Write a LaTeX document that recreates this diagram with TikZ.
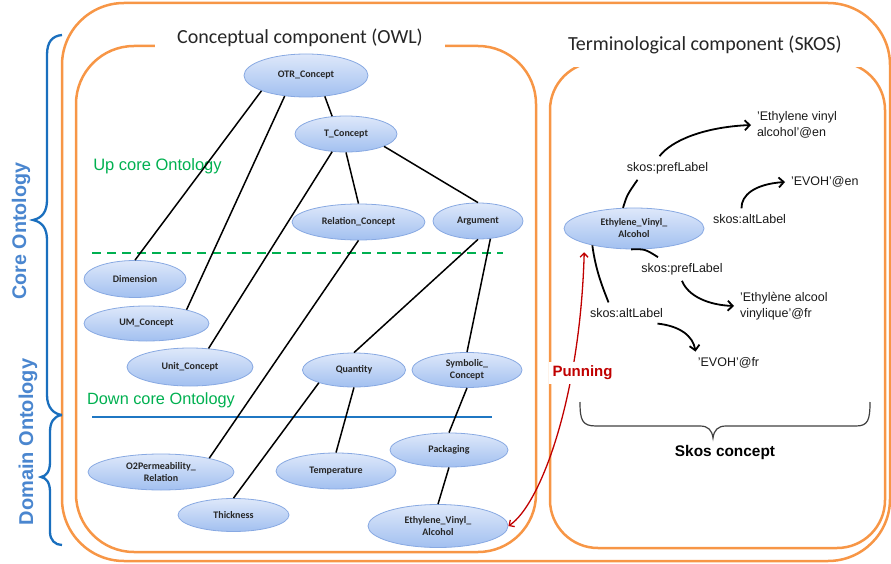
\documentclass[tikz,border=0pt]{standalone}
\usepackage{fontspec}
\setmainfont{Liberation Sans}
\newfontfamily\calibri{Carlito}
\usetikzlibrary{arrows.meta,shapes.geometric}

\definecolor{boxorange}{HTML}{F79646}
\definecolor{braceblue}{HTML}{1A6FBE}
\definecolor{ontoblue}{HTML}{4A86CF}
\definecolor{upgreen}{HTML}{00B050}
\definecolor{punred}{HTML}{C00000}
\definecolor{nodetop}{HTML}{DEE8FA}
\definecolor{nodebot}{HTML}{A2C0F0}
\definecolor{nodeline}{HTML}{88A9E2}
\definecolor{lineblue}{HTML}{1F77C3}

\tikzset{
  concept/.style={ellipse, draw=nodeline, line width=0.8pt, top color=nodetop, bottom color=nodebot,
    inner sep=0pt, align=center, text=black!85, font=\calibri\bfseries\fontsize{10}{12}\selectfont},
  link/.style={line width=1.5pt},
  orangebox/.style={draw=boxorange, line width=2.5pt},
  brace/.style={draw=braceblue, line width=2.3pt},
  lbl/.style={inner sep=1pt, outer sep=5pt, text=black!90, font=\fontsize{12.5}{15.5}\selectfont},
  skosline/.style={line width=1.8pt},
  skosarrow/.style={line width=1.8pt, -{Straight Barb[length=5pt,width=10pt]}},
  title/.style={fill=white, inner ysep=4pt, text=black!85, font=\calibri\fontsize{20}{24}\selectfont}
}

\begin{document}
\begin{tikzpicture}[x=1pt,y=-1pt]

\useasboundingbox (0,0) rectangle (891,564);

% boxes
\draw [orangebox, rounded corners=62pt] (62,3) rectangle (890,561);
\draw [orangebox, rounded corners=58pt] (76,46) rectangle (536,552);
\draw [orangebox, rounded corners=48pt] (550,62) rectangle (885,548);

\node [title, minimum width=290pt] (owltitle) at (300,38) {Conceptual component (OWL)};
\node [title, inner xsep=8pt, inner ysep=13pt, text width=286pt, align=flush left] (skostitle) at (711,45) {Terminological component (SKOS)};

% braces on the left
\draw [brace] (62,35) .. controls (52,36) and (47,42) .. (47,55) -- (47,200)
  .. controls (47,212) and (42,218) .. (33,220) .. controls (42,222) and (47,228) .. (47,240)
  -- (47,395) .. controls (47,408) and (54,414) .. (62,415);
\draw [brace] (62,415) .. controls (54,416) and (50,422) .. (50,432) -- (50,462)
  .. controls (50,472) and (46,476) .. (41,477) .. controls (46,478) and (50,482) .. (50,492)
  -- (50,532) .. controls (50,540) and (55,545) .. (62,545);

\node [rotate=90, text=ontoblue, font=\bfseries\fontsize{19.7}{22}\selectfont] (coreonto) at (21,231) {Core Ontology};
\node [rotate=90, text=ontoblue, font=\bfseries\fontsize{20}{22}\selectfont] (domainonto) at (28,442) {Domain Ontology};

% levels
\node [text=upgreen, font=\fontsize{16.5}{18}\selectfont] (upcore) at (157.5,166) {Up core Ontology};
\node [text=upgreen, font=\fontsize{16.3}{18}\selectfont] (downcore) at (161,400) {Down core Ontology};
\draw [upgreen, line width=1.6pt, dash pattern=on 9pt off 6pt] (92,253) -- (503,253);
\draw [lineblue, line width=1.5pt] (92,417) -- (492,417);

% concepts
\node [concept, minimum width=124pt, minimum height=43pt] (otr) at (306,75.5) {OTR\_Concept};
\node [concept, minimum width=102pt, minimum height=36pt] (tcon) at (346,134) {T\_Concept};
\node [concept, minimum width=133pt, minimum height=36pt] (relcon) at (358.5,222) {Relation\_Concept};
\node [concept, minimum width=90pt, minimum height=36pt] (argument) at (478,221) {Argument};
\node [concept, minimum width=102pt, minimum height=37pt] (dimension) at (135,279) {Dimension};
\node [concept, minimum width=125pt, minimum height=35pt] (umcon) at (146.5,323.5) {UM\_Concept};
\node [concept, minimum width=126pt, minimum height=38pt] (unitcon) at (190,367) {Unit\_Concept};
\node [concept, minimum width=103pt, minimum height=34pt] (quantity) at (354,370) {Quantity};
\node [concept, minimum width=110pt, minimum height=35pt] (symbolic) at (467,370) {Symbolic\_\\Concept};
\node [concept, minimum width=118pt, minimum height=34pt] (packaging) at (449,450) {Packaging};
\node [concept, minimum width=146pt, minimum height=36pt] (otwo) at (161,472) {O2Permeability\_\\Relation};
\node [concept, minimum width=120pt, minimum height=36pt] (temperature) at (336,471) {Temperature};
\node [concept, minimum width=111pt, minimum height=33pt] (thickness) at (233.5,515) {Thickness};
\node [concept, minimum width=140pt, minimum height=43pt] (evadown) at (438,526) {Ethylene\_Vinyl\_\\Alcohol};
\node [concept, minimum width=140pt, minimum height=41pt] (evaup) at (634,228.5) {Ethylene\_Vinyl\_\\Alcohol};

\draw [link] (otr.-48) -- (tcon.128);
\draw [link] (otr.199) -- (dimension.north);
\draw [link] (otr.224) -- (umcon.19);
\draw [link] (tcon.232) -- (unitcon.45);
\draw [link] (tcon.south) -- (relcon.north);
\draw [link] (tcon.-18) -- (argument.north);
\draw [link] (relcon.south) -- (otwo.16);
\draw [link] (argument.south) -- (quantity.north);
\draw [link] (argument.-55) -- (symbolic.north);
\draw [link] (quantity.south) -- (temperature.north);
\draw [link] (quantity.200) -- (thickness.north);
\draw [link] (symbolic.south) -- (packaging.north);
\draw [link] (packaging.south) -- (evadown.north);

% skos labels
\node [lbl] (pref1) at (667.5,168) {skos:prefLabel};
\node [lbl] (alt1) at (749.5,219) {skos:altLabel};
\node [lbl] (pref2) at (682,269) {skos:prefLabel};
\node [lbl] (alt2) at (626.5,313) {skos:altLabel};
\node [lbl, anchor=west, align=left] (en1) at (751,125) {'Ethylene vinyl\\alcohol'@en};
\node [lbl, anchor=west] (en2) at (785,182) {'EVOH'@en};
\node [lbl, anchor=west, align=left] (fr1) at (734,306) {'Ethylène alcool\\vinylique'@fr};
\node [lbl] (fr2) at (728.5,363) {'EVOH'@fr};

\draw [skosline] (evaup.118) .. controls (627,195) .. ([xshift=-30pt]pref1.south);
\draw [skosarrow] ([xshift=-8pt]pref1.north) .. controls (672,140) and (705,127) .. (en1.west);
\draw [skosarrow] ([xshift=-8pt]alt1.north) .. controls (741,195) and (755,184) .. (en2.west);
\draw [skosline] (evaup.262) .. controls (645,249) .. ([xshift=-24pt]pref2.north);
\draw [skosarrow] (pref2.south) .. controls (688,296) and (708,305) .. (fr1.west);
\draw [skosline] (evaup.202) .. controls (596,272) and (603,288) .. ([xshift=-18pt]alt2.north);
\draw [skosarrow] ([xshift=31pt]alt2.south) .. controls (680,326) and (693,336) .. ([xshift=-33pt]fr2.north);

% punning
\draw [punred, line width=1.3pt, {Straight Barb[length=4pt,width=8pt]}-{Straight Barb[length=4pt,width=8pt]}]
  (evadown.east) .. controls (540,505) and (580,400) .. ([yshift=-9pt]evaup.south west);
\node [fill=white, inner sep=4pt, text=punred, font=\bfseries\fontsize{15}{18}\selectfont] (punning) at (582.5,373) {Punning};

% skos concept brace
\draw [black!75, line width=1.2pt] (580,402) .. controls (580,420) and (582,426) .. (596,426) -- (700,426)
  .. controls (708,426) and (712,430) .. (713,438) .. controls (714,430) and (718,426) .. (726,426)
  -- (856,426) .. controls (868,426) and (870,420) .. (870,402);
\node [font=\bfseries\fontsize{15.4}{18}\selectfont] (skosconcept) at (725,453) {Skos concept};

\end{tikzpicture}
\end{document}
